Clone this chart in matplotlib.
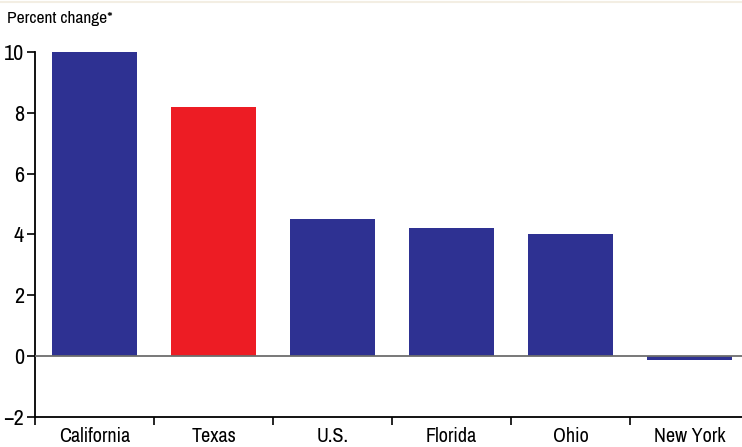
import matplotlib
matplotlib.use('Agg')
import matplotlib.pyplot as plt
from matplotlib.lines import Line2D
from matplotlib import font_manager

# Data
states = ['California', 'Texas', 'U.S.', 'Florida', 'Ohio', 'New York']
pct_change = [10.0, 8.2, 4.5, 4.2, 4.0, -0.13]
col_blue = '#2E3192'
col_red = '#ED1C24'
colors = [col_blue, col_red, col_blue, col_blue, col_blue, col_blue]

# pick a narrow face if one is around
names = sorted({f.name for f in font_manager.fontManager.ttflist})
narrow = [n for n in names if 'Narrow' in n or 'Condensed' in n]
fam = narrow[0] if narrow else 'DejaVu Sans'
plt.rcParams['font.family'] = [fam, 'DejaVu Sans']
plt.rcParams['font.stretch'] = 'condensed'

fig = plt.figure(figsize=(7.42, 4.47), dpi=100)
ax = fig.add_axes([35/742, 1 - 417/447, 714/742, 365/447])

xs = range(len(states))
ax.bar(xs, pct_change, width=0.72, color=colors, zorder=2)
ax.axhline(0, color='#6d6d6d', lw=1.3, zorder=3)

ax.set_xlim(-0.5, len(states) - 0.5)
ax.set_ylim(-2, 10)
ax.set_yticks([-2, 0, 2, 4, 6, 8, 10])
ax.set_yticklabels(['\u22122', '0', '2', '4', '6', '8', '10'], fontsize=16)

# category labels in the middle, tick marks at the boundaries
ax.set_xticks(list(xs))
ax.set_xticklabels(states, fontsize=14.5)
ax.tick_params(axis='x', length=0, pad=7)
ax.set_xticks([i - 0.5 for i in xs], minor=True)
ax.tick_params(axis='x', which='minor', length=6, width=1.2, color='black')
ax.tick_params(axis='y', length=6, width=1.2, pad=2)

for s in ['top', 'right']:
    ax.spines[s].set_visible(False)
ax.spines['left'].set_linewidth(1.3)
ax.spines['bottom'].set_linewidth(1.3)

fig.text(7/742, 1 - 19/447, 'Percent change*', fontsize=12.5, va='center', ha='left')
fig.add_artist(Line2D([0, 1], [1 - 1.5/447, 1 - 1.5/447], color='#f3eee3', lw=1.5,
                      transform=fig.transFigure))

fig.savefig('out.png', dpi=100)
